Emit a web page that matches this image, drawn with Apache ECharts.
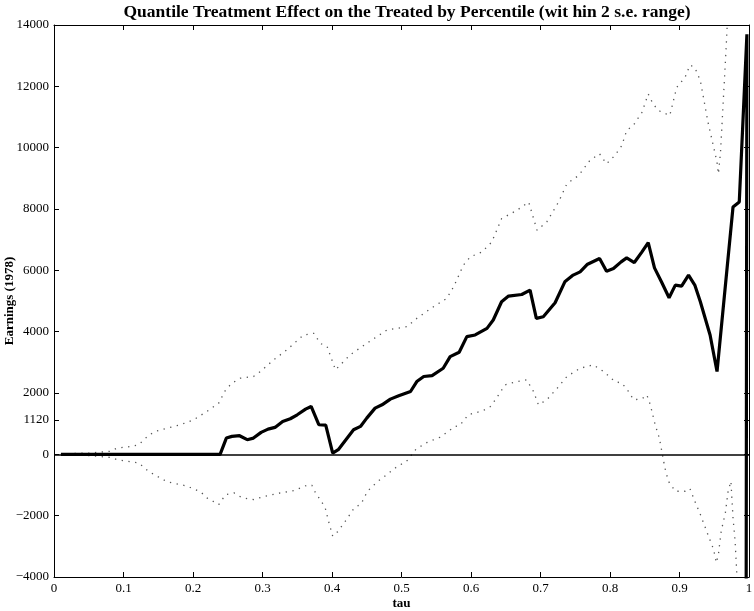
<!DOCTYPE html>
<html lang="en">
  <head>
    <meta charset="UTF-8" />
    <title>Quantile Treatment Effect</title>
    <script src="https://cdn.jsdelivr.net/npm/echarts@6/dist/echarts.min.js"></script>
    <style>
      html, body { margin: 0; padding: 0; background: #fff; }
      #main { width: 754px; height: 611px; }
    </style>
  </head>
  <body>
    <div id="main"></div>
    <script>
      // quantile treatment effect (solid line)
      var qteTau = [0.01, 0.05, 0.1, 0.15, 0.2, 0.239, 0.248, 0.256, 0.267, 0.278, 0.287, 0.298, 0.308, 0.318, 0.329, 0.34, 0.35, 0.362, 0.37, 0.381, 0.391, 0.401, 0.409, 0.431, 0.441, 0.45, 0.462, 0.472, 0.484, 0.496, 0.513, 0.522, 0.532, 0.544, 0.56, 0.57, 0.583, 0.594, 0.606, 0.623, 0.632, 0.644, 0.654, 0.673, 0.685, 0.694, 0.704, 0.721, 0.735, 0.747, 0.757, 0.767, 0.785, 0.795, 0.805, 0.816, 0.824, 0.835, 0.846, 0.855, 0.864, 0.874, 0.885, 0.894, 0.903, 0.913, 0.922, 0.93, 0.944, 0.954, 0.977, 0.986, 0.997, 0.995];
      var qteVal = [0, 0, 0, 0, 0, 0, 530, 585, 607, 477, 530, 715, 823, 878, 1073, 1160, 1290, 1473, 1561, 965, 955, 40, 152, 802, 910, 1180, 1506, 1615, 1800, 1908, 2049, 2374, 2537, 2569, 2807, 3187, 3327, 3837, 3892, 4108, 4380, 4975, 5160, 5213, 5355, 4433, 4488, 4943, 5626, 5844, 5951, 6189, 6384, 5973, 6059, 6276, 6406, 6254, 6601, 6905, 6081, 5626, 5106, 5518, 5485, 5844, 5518, 4975, 3892, 2699, 8065, 8228, 13700, -20000];

      // upper bound (+2 s.e.)
      var upTau = [0.01, 0.05, 0.081, 0.091, 0.112, 0.122, 0.136, 0.146, 0.163, 0.182, 0.201, 0.22, 0.237, 0.247, 0.256, 0.268, 0.287, 0.297, 0.316, 0.335, 0.359, 0.374, 0.383, 0.393, 0.405, 0.426, 0.45, 0.479, 0.508, 0.522, 0.546, 0.565, 0.575, 0.589, 0.599, 0.616, 0.63, 0.644, 0.666, 0.683, 0.695, 0.709, 0.726, 0.738, 0.755, 0.771, 0.785, 0.795, 0.807, 0.817, 0.824, 0.834, 0.846, 0.855, 0.862, 0.87, 0.886, 0.896, 0.908, 0.915, 0.922, 0.93, 0.941, 0.954, 0.956, 0.959, 0.967, 0.975];
      var upVal = [20, 40, 100, 205, 260, 315, 618, 748, 856, 965, 1128, 1398, 1669, 2103, 2320, 2482, 2537, 2699, 3080, 3405, 3892, 3946, 3620, 3512, 2754, 3242, 3620, 4055, 4163, 4433, 4813, 5083, 5463, 6169, 6439, 6602, 6927, 7685, 7957, 8228, 7308, 7577, 8228, 8823, 9096, 9583, 9799, 9474, 9745, 10071, 10558, 10741, 11154, 11750, 11425, 11208, 11046, 11967, 12292, 12692, 12618, 12185, 10829, 9528, 9148, 9853, 13213, 17000];

      // lower bound (-2 s.e.)
      var loTau = [0.01, 0.05, 0.081, 0.091, 0.112, 0.122, 0.136, 0.146, 0.163, 0.182, 0.192, 0.211, 0.22, 0.237, 0.247, 0.259, 0.271, 0.287, 0.304, 0.326, 0.345, 0.364, 0.371, 0.375, 0.39, 0.395, 0.401, 0.408, 0.421, 0.432, 0.442, 0.451, 0.466, 0.474, 0.491, 0.508, 0.521, 0.537, 0.555, 0.564, 0.577, 0.584, 0.596, 0.617, 0.628, 0.635, 0.649, 0.666, 0.68, 0.69, 0.697, 0.709, 0.724, 0.738, 0.757, 0.776, 0.791, 0.807, 0.817, 0.824, 0.834, 0.846, 0.853, 0.858, 0.865, 0.871, 0.879, 0.884, 0.894, 0.908, 0.915, 0.922, 0.93, 0.939, 0.949, 0.953, 0.956, 0.96, 0.966, 0.97, 0.974, 0.977, 0.98, 0.982, 0.985];
      var loVal = [-20, -40, -100, -173, -249, -282, -553, -683, -900, -986, -1041, -1225, -1420, -1637, -1312, -1258, -1420, -1474, -1366, -1258, -1182, -1008, -1008, -1203, -1724, -2179, -2667, -2527, -2124, -1746, -1616, -1203, -878, -748, -445, -206, 173, 390, 553, 694, 910, 943, 1290, 1420, 1561, 1778, 2266, 2374, 2428, 2049, 1615, 1778, 2156, 2537, 2807, 2917, 2699, 2374, 2320, 2138, 1778, 1810, 1941, 1615, 965, 530, -445, -878, -1203, -1203, -1116, -1528, -1961, -2504, -3099, -3535, -3262, -2504, -1908, -1203, -878, -2071, -2829, -3697, -5000];

      var yTicks = [-4000, -2000, 0, 1120, 2000, 4000, 6000, 8000, 10000, 12000, 14000];

      function pairs(xs, ys) {
        var out = [];
        for (var i = 0; i < xs.length; i++) out.push([xs[i], ys[i]]);
        return out;
      }

      var serif = "Liberation Serif";
      var axisLine = { show: true, onZero: false, lineStyle: { color: "#000", width: 1 } };
      var tick = { show: true, inside: true, length: 5, lineStyle: { color: "#000", width: 1 } };

      var myChart = echarts.init(document.getElementById("main"));
      var option = {
        animation: false,
        backgroundColor: "#fff",
        title: {
          text: "Quantile Treatment Effect on the Treated by Percentile (wit hin 2 s.e. range)",
          left: 402,
          textAlign: "center",
          top: -2,
          textStyle: { fontFamily: serif, fontWeight: "bold", fontSize: 17.5, color: "#000" },
        },
        grid: { left: 54, right: 5, top: 25, bottom: 34, containLabel: false, outerBoundsMode: "none" },
        xAxis: [
          {
            type: "value",
            min: 0,
            max: 1,
            interval: 0.1,
            name: "tau",
            nameLocation: "middle",
            nameMoveOverlap: false,
            nameGap: 20,
            nameTextStyle: { fontFamily: serif, fontWeight: "bold", fontSize: 13, color: "#000" },
            axisLine: axisLine,
            axisTick: tick,
            splitLine: { show: false },
            axisLabel: { fontFamily: serif, fontSize: 13, color: "#000", margin: 5 },
          },
          {
            type: "value",
            position: "top",
            min: 0,
            max: 1,
            interval: 0.1,
            axisLine: axisLine,
            axisTick: tick,
            splitLine: { show: false },
            axisLabel: { show: false },
          },
        ],
        yAxis: [
          {
            type: "value",
            min: -4000,
            max: 14000,
            interval: 2000,
            name: "Earnings (1978)",
            nameLocation: "middle",
            nameMoveOverlap: false,
            nameGap: 38,
            nameTextStyle: { fontFamily: serif, fontWeight: "bold", fontSize: 13, color: "#000" },
            axisLine: axisLine,
            axisTick: Object.assign({}, tick, { customValues: yTicks }),
            splitLine: { show: false },
            axisLabel: {
              customValues: yTicks,
              fontFamily: serif,
              fontSize: 13,
              color: "#000",
              margin: 5,
              formatter: function (v) {
                return String(v).replace("-", "\u2212");
              },
            },
          },
          {
            type: "value",
            position: "right",
            min: -4000,
            max: 14000,
            interval: 2000,
            axisLine: axisLine,
            axisTick: Object.assign({}, tick, { customValues: yTicks }),
            splitLine: { show: false },
            axisLabel: { show: false },
          },
        ],
        series: [
          {
            name: "upper",
            type: "line",
            showSymbol: false,
            clip: true,
            lineStyle: { color: "#555", width: 1.3, type: [1.3, 5.5] },
            data: pairs(upTau, upVal),
          },
          {
            name: "lower",
            type: "line",
            showSymbol: false,
            clip: true,
            lineStyle: { color: "#555", width: 1.3, type: [1.3, 5.5] },
            data: pairs(loTau, loVal),
          },
          {
            name: "qte",
            type: "line",
            showSymbol: false,
            clip: true,
            z: 5,
            lineStyle: { color: "#000", width: 3.2 },
            markLine: {
              silent: true,
              symbol: ["none", "none"],
              label: { show: false },
              lineStyle: { color: "#000", width: 1.5, type: "solid" },
              data: [{ yAxis: 0 }],
            },
            data: pairs(qteTau, qteVal),
          },
        ],
      };
      option && myChart.setOption(option);
    </script>
  </body>
</html>
